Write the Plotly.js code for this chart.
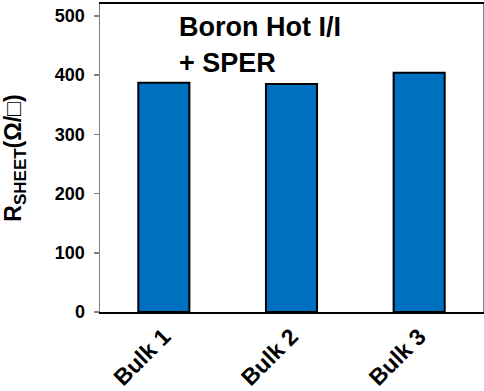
<!DOCTYPE html>
<html><head><meta charset="utf-8">
<script src="https://cdn.plot.ly/plotly-3.0.1.min.js"></script>
<style>html,body{margin:0;padding:0;background:#fff}</style>
</head><body><div id="c" style="width:484px;height:391px"></div>
<script>
const categories = ["Bulk 1", "Bulk 2", "Bulk 3"];
const rsheet = [387, 385, 404];
const yTicks = [0, 100, 200, 300, 400, 500];
const noteLines = ["Boron Hot I/I", "+ SPER"];
const FONT = "Liberation Sans, Arial, sans-serif";

Plotly.newPlot("c", [{
  type: "bar", x: categories, y: rsheet, width: 0.4,
  marker: {color: "#0070C0", line: {color: "#000", width: 2}}
}], {
  width: 484, height: 391,
  margin: {l: 100, r: 1, t: 4, b: 79},
  paper_bgcolor: "#fff", plot_bgcolor: "#fff",
  showlegend: false,
  font: {family: FONT, color: "#000"},
  xaxis: {
    range: [-0.5, 2.5], showline: true, mirror: true, linecolor: "#000", linewidth: 2,
    ticks: "", tickangle: -45, tickfont: {size: 23, weight: "bold", family: FONT},
    showgrid: false, zeroline: false
  },
  yaxis: {
    range: [0, 520], tickvals: yTicks, showline: true, mirror: true, linecolor: "#7f7f7f", linewidth: 1.5,
    ticks: "outside", ticklen: 5, tickcolor: "#7f7f7f", tickwidth: 1.5, ticklabelstandoff: 5,
    tickfont: {size: 18, weight: "bold", family: FONT},
    showgrid: false, zeroline: false,
    title: {text: "R<sub><span style='font-size:17px'>SHEET</span></sub>(Ω/□)", font: {size: 23, weight: "bold", family: FONT}, standoff: 27}
  },
  annotations: [
    {xref: "paper", yref: "paper", x: 0.2, y: 0.925, xanchor: "left", yanchor: "middle",
     showarrow: false, text: noteLines[0], font: {size: 27, weight: "bold", family: FONT, color: "#000"}},
    {xref: "paper", yref: "paper", x: 0.2, y: 0.81, xanchor: "left", yanchor: "middle",
     showarrow: false, text: noteLines[1], font: {size: 27, weight: "bold", family: FONT, color: "#000"}}
  ]
}, {displayModeBar: false, staticPlot: true});
</script></body></html>
